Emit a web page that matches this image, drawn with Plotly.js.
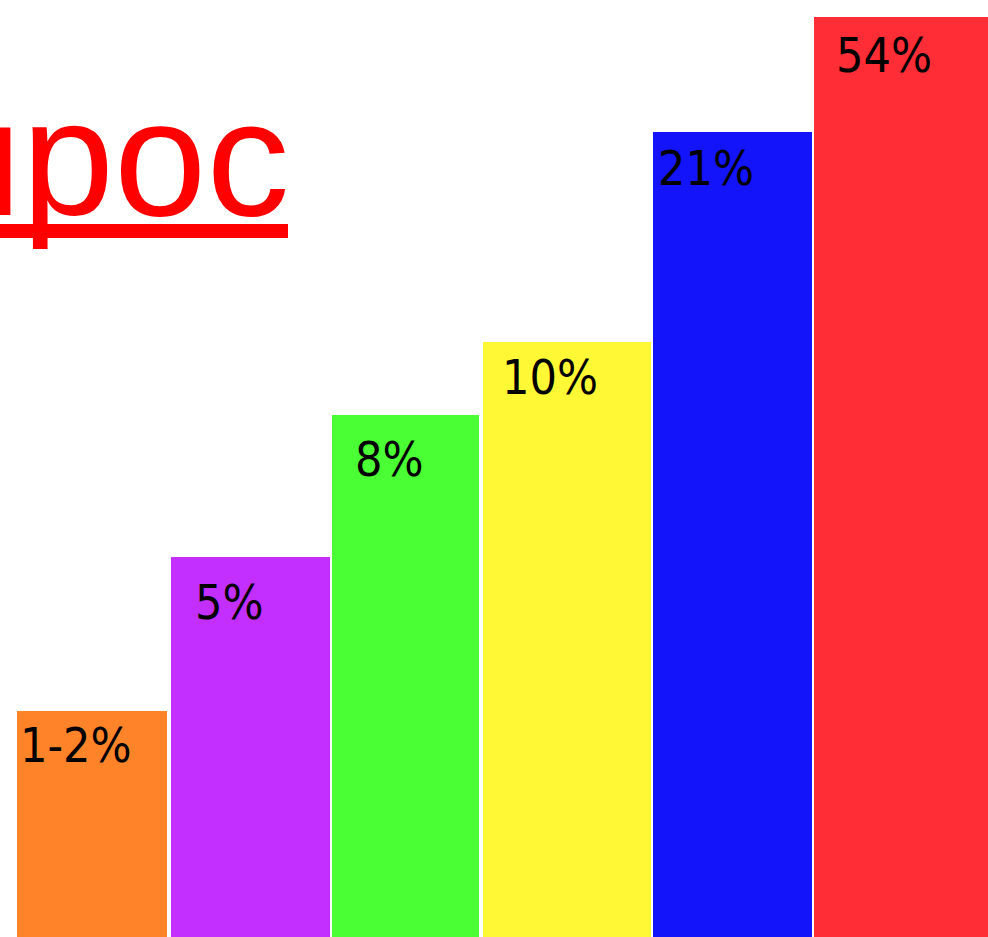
<!DOCTYPE html>
<html>
<head>
<meta charset="utf-8">
<script src="https://cdn.plot.ly/plotly-3.0.1.min.js"></script>
<style>html,body{margin:0;padding:0;background:#fff;overflow:hidden}#chart{width:988px;height:937px}</style>
</head>
<body>
<div id="chart"></div>
<script>
// Data (bar heights on an arbitrary scale; labels as printed)
var categories = ["A", "B", "C", "D", "E", "F"];
var labels = ["1-2%", "5%", "8%", "10%", "21%", "54%"];
var heights = [226, 380, 522, 595, 805, 920];
var title = "Спрос";

// Layout/styling
var barLeft = [17, 171, 332, 483, 653, 814];
var barWidth = [150, 159, 147, 168, 159, 180];
var colors = ["#FF8429", "#C22FFF", "#4AFF33", "#FFF935", "#1414FA", "#FF2D36"];
var labelDx = [3, 24, 23, 19, 5, 22];
var labelDy = [12, 23, 22, 13, 14, 16];

var xc = barLeft.map(function (l, i) { return l + barWidth[i] / 2; });

var annotations = labels.map(function (t, i) {
  return {
    x: barLeft[i], y: heights[i], xref: "x", yref: "y",
    text: t, showarrow: false, xanchor: "left", yanchor: "top",
    xshift: labelDx[i] - 2, yshift: -labelDy[i] + 8,
    font: {family: "DejaVu Sans Condensed, DejaVu Sans", size: 48, color: "#000"}
  };
});
annotations.push({
  x: 291, y: 937 - 252, xref: "x", yref: "y",
  text: title,
  showarrow: false, xanchor: "right", yanchor: "bottom",
  font: {family: "Liberation Sans, Arial", size: 166, color: "#FF0000"}
});

var trace = {
  type: "bar",
  x: xc,
  y: heights,
  width: barWidth,
  marker: {color: colors, line: {width: 0}},
  text: categories,
  textposition: "none",
  hoverinfo: "none"
};

var layout = {
  width: 988, height: 937,
  margin: {l: 0, r: 0, t: 0, b: 0, pad: 0},
  paper_bgcolor: "#ffffff", plot_bgcolor: "#ffffff",
  showlegend: false,
  xaxis: {range: [0, 988], visible: false, fixedrange: true},
  yaxis: {range: [0, 937], visible: false, fixedrange: true},
  annotations: annotations,
  shapes: [{
    type: "line", xref: "x", yref: "y",
    x0: -10, x1: 288, y0: 937 - 231, y1: 937 - 231,
    line: {color: "#FF0000", width: 14}
  }]
};

Plotly.newPlot("chart", [trace], layout, {staticPlot: true, displayModeBar: false});
</script>
</body>
</html>
